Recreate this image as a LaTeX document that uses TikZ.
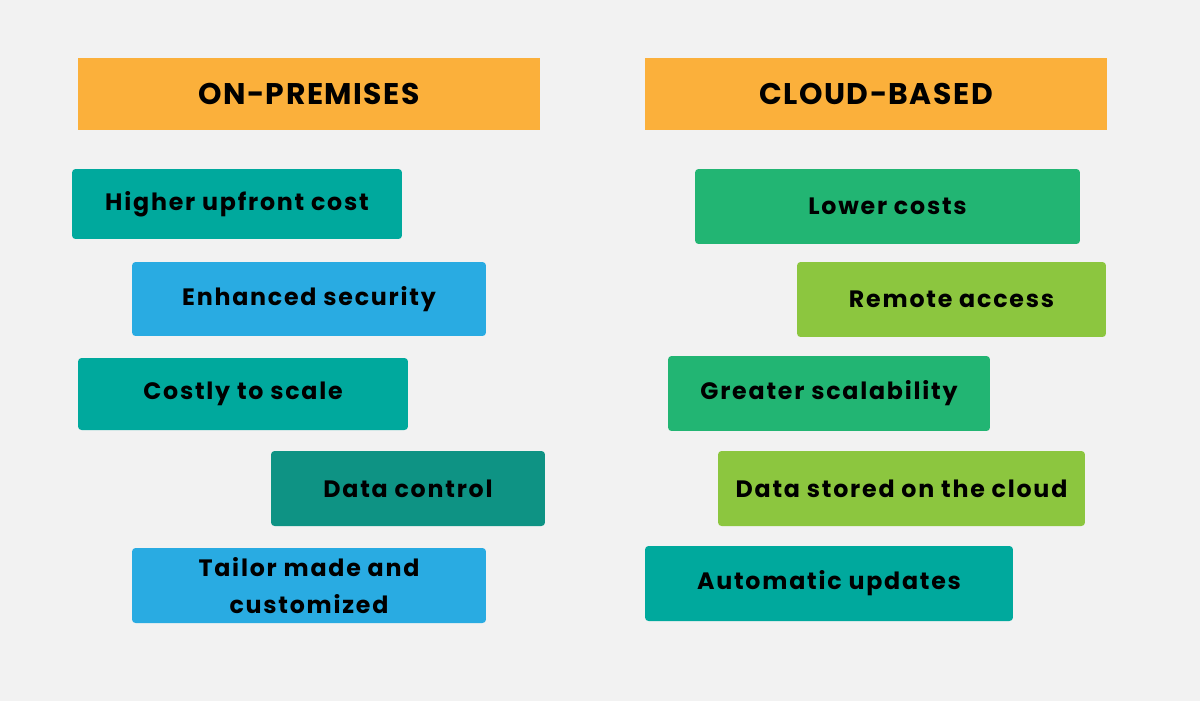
\documentclass[tikz,border=0pt]{standalone}
\usepackage{fontspec}
\setmainfont{Poppins}[LetterSpace=7.5]
\newfontfamily\headfont{Poppins}[LetterSpace=5]
\usetikzlibrary{positioning}
\definecolor{bgcol}{HTML}{F2F2F2}
\definecolor{headcol}{HTML}{FBB03B}
\definecolor{tealcol}{HTML}{00A99D}
\definecolor{bluecol}{HTML}{29ABE2}
\definecolor{darkteal}{HTML}{0E9384}
\definecolor{greencol}{HTML}{22B573}
\definecolor{limecol}{HTML}{8CC63F}
\tikzset{item/.style={%
        rectangle,
        rounded corners=2pt,
        inner sep=0pt,
        minimum height=1.5cm,
        align=center,
        text=black,
        font=\bfseries\fontsize{13.5}{21}\selectfont
    },
    header/.style={%
        item,
        fill=headcol,
        rounded corners=0pt,
        minimum width=9.24cm,
        minimum height=1.44cm,
        font=\headfont\bfseries\fontsize{17}{20}\selectfont
    }}

\begin{document}
\begin{tikzpicture}[x=0.02cm,y=-0.02cm]
    \useasboundingbox (0,0) rectangle (1200,700);
    \fill[bgcol] (-2,-2) rectangle (1202,702);
    \node [header] (onprem) at (309,94) {ON-PREMISES};
    \node [header] (cloud) at (876,94) {CLOUD-BASED};
    % on-premises side
    \node [item, fill=tealcol, minimum width=6.6cm, minimum height=1.4cm] (upfront) at (237,204) {Higher upfront cost};
    \node [item, fill=bluecol, minimum width=7.08cm, minimum height=1.48cm] (security) at (309,299) {Enhanced security};
    \node [item, fill=tealcol, minimum width=6.6cm, minimum height=1.44cm] (costly) at (243,394) {Costly to scale};
    \node [item, fill=darkteal, minimum width=5.48cm] (control) at (408,488.5) {Data control};
    \node [item, fill=bluecol, minimum width=7.08cm] (tailor) at (309,585.5) {Tailor made and\\customized};
    % cloud side
    \node [item, fill=greencol, minimum width=7.7cm] (lower) at (887.5,206.5) {Lower costs};
    \node [item, fill=limecol, minimum width=6.18cm] (remote) at (951.5,299.5) {Remote access};
    \node [item, fill=greencol, minimum width=6.44cm] (scal) at (829,393.5) {Greater scalability};
    \node [item, fill=limecol, minimum width=7.34cm] (stored) at (901.5,488.5) {Data stored on the cloud};
    \node [item, fill=tealcol, minimum width=7.36cm] (updates) at (829,583.5) {Automatic updates};
\end{tikzpicture}
\end{document}
